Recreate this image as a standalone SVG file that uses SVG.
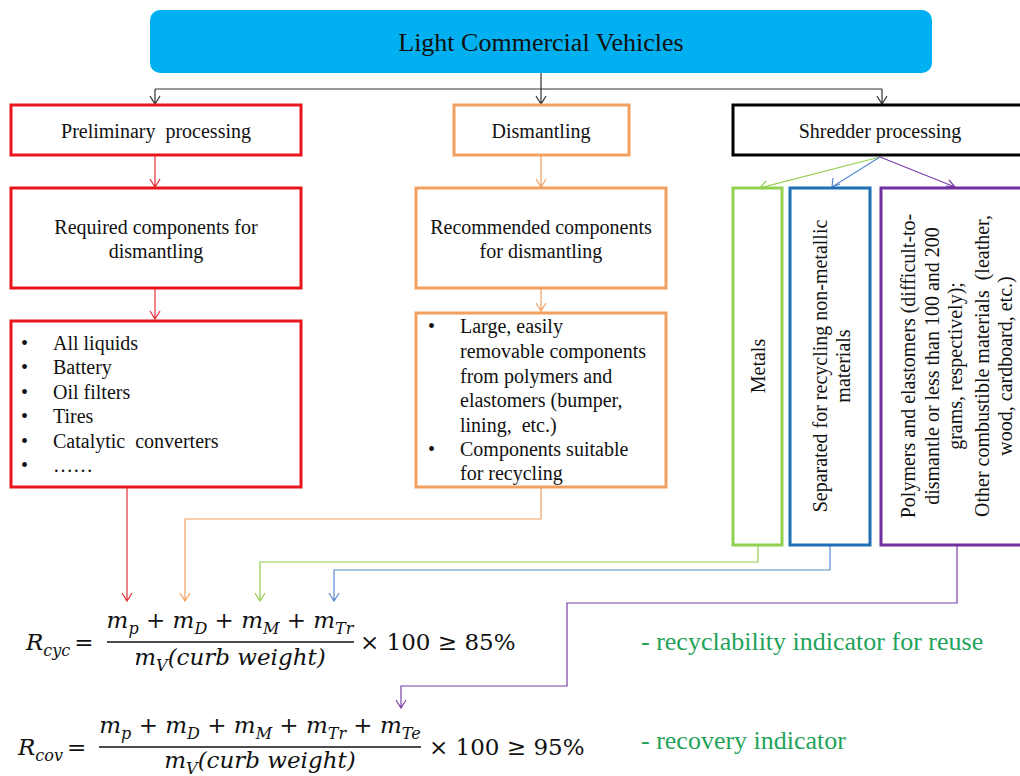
<svg xmlns="http://www.w3.org/2000/svg" width="1020" height="776" viewBox="0 0 1020 776">
<style>
.t{font-family:"Liberation Serif","Times New Roman",serif;fill:#111;font-size:20px}
.m{font-family:"DejaVu Serif","Liberation Serif",serif;font-style:italic;fill:#111;font-size:23px}
.s{font-size:16px}
.n{font-style:normal}
.g{font-family:"Liberation Serif",serif;font-size:26px;fill:#1FA35A}
</style>
<rect width="1020" height="776" fill="#fff"/>

<g id="lcv">
<rect x="150" y="10" width="782" height="63" rx="10" fill="#00B0F0"/>
<text class="t" x="541" y="51" style="font-size:26px" text-anchor="middle">Light Commercial Vehicles</text>
</g>

<g id="connectors">
<g stroke="#333" fill="none" stroke-width="1.2">
<path d="M155,89 H882"/>
<path d="M155,89 V104 M150,96 L155,104 L160,96"/>
<path d="M541,73 V104 M536,96 L541,104 L546,96"/>
<path d="M882,89 V104 M877,96 L882,104 L887,96"/>
</g>
<g stroke="#E5323A" fill="none" stroke-width="1.2">
<path d="M155,156 V187 M150,179 L155,187 L160,179"/>
<path d="M155,289 V319 M150,311 L155,319 L160,311"/>
<path d="M127,488 V601 M122,593 L127,601 L132,593"/>
</g>
<g stroke="#F2A060" fill="none" stroke-width="1.2">
<path d="M541,156 V187 M536,179 L541,187 L546,179"/>
<path d="M541,289 V311 M536,303 L541,311 L546,303"/>
<path d="M541,488 V519 H185 V601 M180,593 L185,601 L190,593"/>
</g>
<g stroke="#92D050" fill="none" stroke-width="1.2">
<path d="M880,157 L760,188 M766,181 L760,188 L769,190"/>
<path d="M758,546 V562 H260 V601 M255,593 L260,601 L265,593"/>
</g>
<g stroke="#5B8BD0" fill="none" stroke-width="1.2">
<path d="M880,157 L832,187 M833,178 L832,187 L840,184"/>
<path d="M830,546 V570 H334 V601 M329,593 L334,601 L339,593"/>
</g>
<g stroke="#7B3FA8" fill="none" stroke-width="1.2">
<path d="M880,157 L955,187 M946,186 L955,187 L949,180"/>
<path d="M957,546 V603 H567 V686 H401 V708 M396,700 L401,708 L406,700"/>
</g>
</g>

<g id="prelim">
<rect x="11" y="105" width="290" height="50" fill="#fff" stroke="#E8141B" stroke-width="3"/>
<text class="t" x="156" y="138" text-anchor="middle">Preliminary&#160; processing</text>
</g>
<g id="dismantling">
<rect x="454" y="105" width="175" height="50" fill="#fff" stroke="#F2A060" stroke-width="3"/>
<text class="t" x="541" y="138" text-anchor="middle">Dismantling</text>
</g>
<g id="shredder">
<rect x="733" y="105" width="300" height="50" fill="#fff" stroke="#000" stroke-width="3"/>
<text class="t" x="880" y="138" text-anchor="middle">Shredder processing</text>
</g>

<g id="required">
<rect x="11" y="188" width="290" height="100" fill="#fff" stroke="#E8141B" stroke-width="3"/>
<text class="t" x="156" y="234" text-anchor="middle">Required components for</text>
<text class="t" x="156" y="258" text-anchor="middle">dismantling</text>
</g>
<g id="recommended">
<rect x="416" y="188" width="250" height="100" fill="#fff" stroke="#F2A060" stroke-width="3"/>
<text class="t" x="541" y="234" text-anchor="middle">Recommended components</text>
<text class="t" x="541" y="258" text-anchor="middle">for dismantling</text>
</g>

<g id="reqlist">
<rect x="11" y="321" width="290" height="166" fill="#fff" stroke="#E8141B" stroke-width="3"/>
<g class="t">
<text x="21" y="350">•</text><text x="53" y="350">All liquids</text>
<text x="21" y="374">•</text><text x="53" y="374">Battery</text>
<text x="21" y="399">•</text><text x="53" y="399">Oil filters</text>
<text x="21" y="423">•</text><text x="53" y="423">Tires</text>
<text x="21" y="448">•</text><text x="53" y="448">Catalytic&#160; converters</text>
<text x="21" y="472">•</text><text x="53" y="472">……</text>
</g>
</g>
<g id="reclist">
<rect x="416" y="313" width="250" height="174" fill="#fff" stroke="#F2A060" stroke-width="3"/>
<g class="t">
<text x="428" y="333">•</text><text x="460" y="333">Large, easily</text>
<text x="460" y="358">removable components</text>
<text x="460" y="383">from polymers and</text>
<text x="460" y="407">elastomers (bumper,</text>
<text x="460" y="432">lining,&#160; etc.)</text>
<text x="428" y="456">•</text><text x="460" y="456">Components suitable</text>
<text x="460" y="480">for recycling</text>
</g>
</g>

<g id="metals">
<rect x="733" y="188" width="49" height="357" fill="#fff" stroke="#92D050" stroke-width="3"/>
<text class="t" transform="translate(765,366) rotate(-90)" text-anchor="middle">Metals</text>
</g>
<g id="nonmetallic">
<rect x="790" y="188" width="80" height="357" fill="#fff" stroke="#1F6FB5" stroke-width="3"/>
<text class="t" transform="translate(827,366) rotate(-90)" text-anchor="middle">Separated for recycling non-metallic</text>
<text class="t" transform="translate(850,366) rotate(-90)" text-anchor="middle">materials</text>
</g>
<g id="polymers">
<rect x="881" y="188" width="150" height="357" fill="#fff" stroke="#7030A0" stroke-width="3"/>
<g class="t">
<text transform="translate(915,366) rotate(-90)" text-anchor="middle">Polymers and elastomers (difficult-to-</text>
<text transform="translate(939,366) rotate(-90)" text-anchor="middle">dismantle or less than 100 and 200</text>
<text transform="translate(962,366) rotate(-90)" text-anchor="middle">grams, respectively);</text>
<text transform="translate(989,366) rotate(-90)" text-anchor="middle">Other combustible materials&#160; (leather,</text>
<text transform="translate(1012,366) rotate(-90)" text-anchor="middle">wood, cardboard, etc.)</text>
</g>
</g>

<g id="rcyc">
<text class="m" x="26" y="650">R<tspan class="s" dy="6">cyc</tspan><tspan class="n" dy="-6" dx="4">=</tspan></text>
<text class="m" x="230" y="628" text-anchor="middle">m<tspan class="s" dy="6">p</tspan><tspan class="n" dy="-6"> + </tspan>m<tspan class="s" dy="6">D</tspan><tspan class="n" dy="-6"> + </tspan>m<tspan class="s" dy="6">M</tspan><tspan class="n" dy="-6"> + </tspan>m<tspan class="s" dy="6">Tr</tspan></text>
<line x1="107" y1="642" x2="354" y2="642" stroke="#111" stroke-width="1.3"/>
<text class="m" x="230" y="665" text-anchor="middle">m<tspan class="s" dy="6">V</tspan><tspan dy="-6">(curb weight)</tspan></text>
<text class="m n" x="360" y="650">× 100 ≥ 85%</text>
</g>
<g id="rcov">
<text class="m" x="18" y="755">R<tspan class="s" dy="6">cov</tspan><tspan class="n" dy="-6" dx="4">=</tspan></text>
<text class="m" x="260" y="733" text-anchor="middle">m<tspan class="s" dy="6">p</tspan><tspan class="n" dy="-6"> + </tspan>m<tspan class="s" dy="6">D</tspan><tspan class="n" dy="-6"> + </tspan>m<tspan class="s" dy="6">M</tspan><tspan class="n" dy="-6"> + </tspan>m<tspan class="s" dy="6">Tr</tspan><tspan class="n" dy="-6"> + </tspan>m<tspan class="s" dy="6">Te</tspan></text>
<line x1="99" y1="747" x2="421" y2="747" stroke="#111" stroke-width="1.3"/>
<text class="m" x="260" y="768" text-anchor="middle">m<tspan class="s" dy="6">V</tspan><tspan dy="-6">(curb weight)</tspan></text>
<text class="m n" x="429" y="755">× 100 ≥ 95%</text>
</g>

<g id="labels">
<text class="g" x="641" y="650">- recyclability indicator for reuse</text>
<text class="g" x="641" y="749">- recovery indicator</text>
</g>
</svg>
